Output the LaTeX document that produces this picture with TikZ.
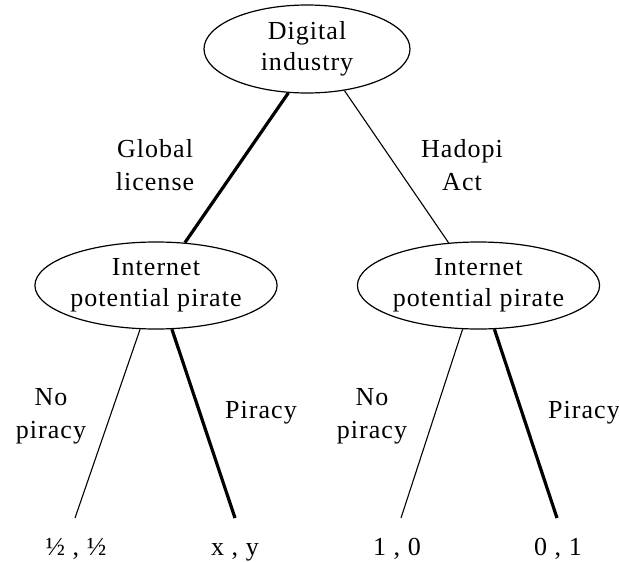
\documentclass[tikz,border=0pt]{standalone}
\usepackage{fontspec}
\setmainfont{Liberation Serif}[LetterSpace=4]
\usetikzlibrary{shapes.geometric}
\begin{document}
\begin{tikzpicture}[x=1pt,y=-1pt,
  decision/.style={ellipse,draw,line width=1.2pt,inner sep=0pt,align=center,
    font=\fontsize{26}{31}\selectfont},
  topnode/.style={decision,minimum width=206pt,minimum height=88pt},
  pirnode/.style={decision,minimum width=227pt,minimum height=87pt},
  lbl/.style={inner sep=0pt,anchor=north,align=center,font=\fontsize{26}{33}\selectfont},
  leaf/.style={inner sep=0pt,anchor=base,font=\fontsize{26}{31}\selectfont},
  thinedge/.style={line width=1.1pt},
  thickedge/.style={line width=3.2pt}]
\useasboundingbox (0,0) rectangle (619,562);
\node[topnode] (top) at (307,49) {Digital\\industry};
\node[pirnode] (pl) at (156,285.5) {Internet\\potential pirate};
\node[pirnode] (pr) at (478.5,285.5) {Internet\\potential pirate};
\coordinate (l1) at (75,518);
\coordinate (l2) at (235,518);
\coordinate (l3) at (401,518);
\coordinate (l4) at (557,518);
\draw[thickedge] (top.247) -- (pl.56);
\draw[thinedge] (top.312) -- (pr.125);
\draw[thinedge] (pl.250) -- (l1);
\draw[thickedge] (pl.290) -- (l2);
\draw[thinedge] (pr.250) -- (l3);
\draw[thickedge] (pr.290) -- (l4);
\node[lbl] (gl) at (155,139) {Global\\license};
\node[lbl] (ha) at (462,139) {Hadopi\\Act};
\node[lbl] (np1) at (51,388) {No\\piracy};
\node[lbl] (p1) at (261,401) {Piracy};
\node[lbl] (np2) at (372,388) {No\\piracy};
\node[lbl] (p2) at (584,401) {Piracy};
\node[leaf] (r1) at (76,555) {½ , ½};
\node[leaf] (r2) at (235,555) {x , y};
\node[leaf] (r3) at (397,555) {1 , 0};
\node[leaf] (r4) at (558,555) {0 , 1};
\end{tikzpicture}
\end{document}
